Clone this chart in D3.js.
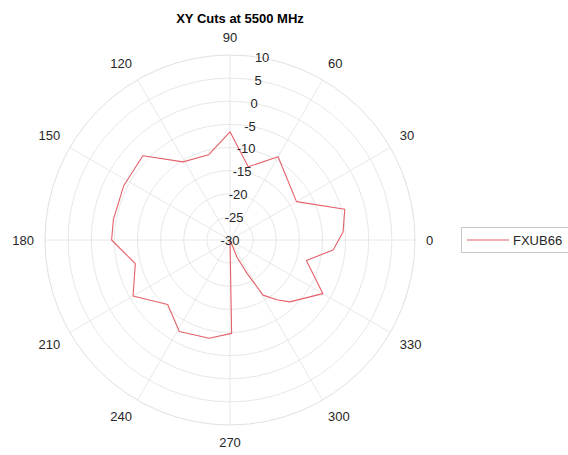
<!DOCTYPE html>
<html><head><meta charset="utf-8">
<script src="https://cdn.jsdelivr.net/npm/d3@7"></script>
<style>body{margin:0;background:#fff}svg{display:block}</style>
</head><body><svg id="c" width="568" height="455"></svg>
<script>
const titleText = "XY Cuts at 5500 MHz";
const seriesName = "FXUB66";
const angleDeg = [4, 15, 30, 60, 76, 90, 104, 121, 136, 153, 170, 180, 194, 210, 226, 241, 258, 271, 272, 292, 297, 301, 308, 314, 330, 345, 354.5, 364];
const gainDb   = [-5.5, -4.3, -13.4, -9.2, -13.7, -6.6, -11.0, -10.3, -3.8, -4.2, -4.4, -4.4, -8.9, -5.8, -10.6, -7.4, -8.3, -9.8, -30, -26.1, -21.9, -16.1, -13.6, -11.4, -6.8, -12.9, -7.6, -5.5];
const rTicks = [-30, -25, -20, -15, -10, -5, 0, 5, 10];
const thetaTicks = [0, 30, 60, 90, 120, 150, 180, 210, 240, 270, 300, 330];

const svg = d3.select("#c");
const cx = 230, cy = 240, R = 185;
const r = d3.scaleLinear().domain([-30, 10]).range([0, R]).clamp(true);
const gridCol = "#e8e8e8", txtCol = "#262626";
const font = "Liberation Sans, Arial, sans-serif";
const g = svg.append("g").attr("transform", `translate(${cx},${cy})`);

// spokes
g.selectAll("line.spoke").data(thetaTicks).join("line")
  .attr("x1", 0).attr("y1", 0)
  .attr("x2", d => R * Math.cos(d * Math.PI / 180))
  .attr("y2", d => -R * Math.sin(d * Math.PI / 180))
  .attr("stroke", gridCol).attr("stroke-width", 1);
// rings
g.selectAll("circle.ring").data(rTicks.slice(1)).join("circle")
  .attr("r", d => r(d)).attr("fill", "none")
  .attr("stroke", d => d === 10 ? "#e0e0e0" : gridCol).attr("stroke-width", 1);

// data line
const pts = angleDeg.map((a, i) => [a * Math.PI / 180, gainDb[i]]);
const line = d3.line()
  .x(d => r(d[1]) * Math.cos(d[0]))
  .y(d => -r(d[1]) * Math.sin(d[0]));
g.append("path").attr("d", line(pts)).attr("fill", "none")
  .attr("stroke", "#e4606a").attr("stroke-width", 1.1).attr("stroke-linejoin", "round");

// r tick labels along 80 deg
const ra = 80 * Math.PI / 180;
g.selectAll("text.rt").data(rTicks).join("text")
  .attr("x", d => r(d) * Math.cos(ra))
  .attr("y", d => -r(d) * Math.sin(ra))
  .attr("text-anchor", "middle").attr("dominant-baseline", "central")
  .attr("font-family", font).attr("font-size", 13)
  .attr("fill", txtCol).text(d => d);

// theta labels: anchored by side (MATLAB-like alignment)
const L = R + 11;
g.selectAll("text.tt").data(thetaTicks).join("text")
  .each(function(d) {
    const a = d * Math.PI / 180, c = Math.cos(a), s = Math.sin(a);
    const h = 13;
    const anchor = c > 0.1 ? "start" : (c < -0.1 ? "end" : "middle");
    const dy = s > 0.1 ? -h / 2 : (s < -0.1 ? h / 2 : 0);
    d3.select(this)
      .attr("x", L * c)
      .attr("y", -L * s + dy)
      .attr("text-anchor", anchor);
  })
  .attr("dominant-baseline", "central")
  .attr("font-family", font).attr("font-size", 13)
  .attr("fill", txtCol).text(d => d);

// title
svg.append("text").attr("x", 240).attr("y", 18)
  .attr("text-anchor", "middle").attr("dominant-baseline", "central")
  .attr("font-family", font).attr("font-size", 13)
  .attr("font-weight", "bold").attr("fill", "#000").text(titleText);

// legend
const lg = svg.append("g").attr("transform", "translate(461,227)");
lg.append("rect").attr("x", 0.5).attr("y", 0.5).attr("width", 110).attr("height", 25)
  .attr("fill", "#fff").attr("stroke", "#c8c8c8");
lg.append("line").attr("x1", 6).attr("x2", 48).attr("y1", 13).attr("y2", 13)
  .attr("stroke", "#e4606a").attr("stroke-width", 1.1);
lg.append("text").attr("x", 52).attr("y", 13).attr("dominant-baseline", "central")
  .attr("font-family", font).attr("font-size", 13)
  .attr("fill", txtCol).text(seriesName);
</script></body></html>
